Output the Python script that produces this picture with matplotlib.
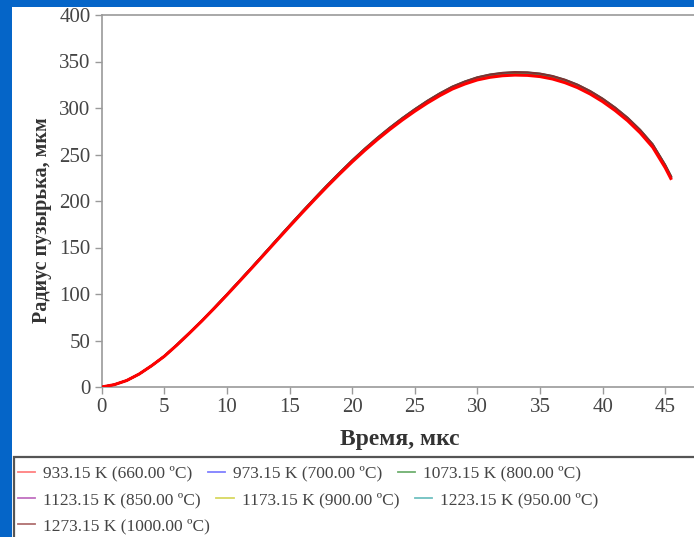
#Importing Libraries
import matplotlib
matplotlib.use('Agg')
import matplotlib.pyplot as plt
from matplotlib.lines import Line2D
from matplotlib.patches import Rectangle

plt.rcParams['font.family'] = ['Liberation Serif', 'DejaVu Serif']

#Data (time in mks, radius in mkm)
time = [0, 1, 2, 3, 4, 5, 6, 7, 8, 9, 10, 11, 12, 13, 14, 15, 16, 17, 18, 19, 20, 21, 22, 23,
        24, 25, 26, 27, 28, 29, 30, 31, 32, 33, 34, 35, 36, 37, 38, 39, 40, 41, 42, 43, 44, 45, 45.5]
r_933 = [0, 2.5, 7, 14, 23, 33, 45, 57.8, 71, 84.8, 99, 113.5, 128.1, 142.9, 157.8, 172.6, 187.2, 201.5,
         215.5, 229, 242, 254.3, 265.9, 276.8, 287, 296.5, 305.3, 313.3, 320.4, 325.8, 330.2, 333, 334.7,
         335.4, 335.1, 333.8, 331.2, 327.2, 321.9, 315.1, 306.9, 297.3, 286.3, 273.3, 257.8, 235.8, 222.8]
r_973 = [0, 2.5, 7, 14, 23, 33.1, 45.2, 58, 71.2, 85, 99.2, 113.8, 128.4, 143.3, 158.3, 173.1, 187.8, 202.1,
         216.2, 229.7, 242.8, 255.1, 266.8, 277.7, 288, 297.6, 306.4, 314.5, 321.6, 327.1, 331.5, 334.4, 336.1,
         336.9, 336.6, 335.3, 332.7, 328.7, 323.4, 316.6, 308.4, 298.8, 287.8, 274.8, 259.3, 237.2, 224.2]
r_1073 = [0, 2.5, 7, 14, 23, 33.1, 45.2, 58, 71.2, 85.1, 99.3, 113.9, 128.6, 143.5, 158.5, 173.3, 188, 202.4,
          216.5, 230.1, 243.1, 255.5, 267.2, 278.2, 288.5, 298, 306.9, 315, 322.2, 327.7, 332.2, 335, 336.8,
          337.6, 337.3, 336, 333.4, 329.4, 324.1, 317.3, 309.1, 299.5, 288.5, 275.5, 260, 237.8, 224.8]
r_1123 = [0, 2.5, 7, 14, 23, 33.1, 45.3, 58.1, 71.3, 85.1, 99.4, 114, 128.7, 143.6, 158.6, 173.4, 188.1, 202.5,
          216.6, 230.2, 243.3, 255.7, 267.4, 278.4, 288.7, 298.3, 307.2, 315.3, 322.4, 327.9, 332.4, 335.3, 337.1,
          337.9, 337.6, 336.3, 333.7, 329.7, 324.4, 317.6, 309.4, 299.8, 288.8, 275.8, 260.3, 238.1, 225.1]
r_1173 = [0, 2.5, 7, 14, 23, 33.1, 45.3, 58.1, 71.3, 85.1, 99.4, 114, 128.7, 143.6, 158.6, 173.5, 188.2, 202.6,
          216.8, 230.3, 243.5, 255.9, 267.6, 278.6, 288.9, 298.5, 307.4, 315.5, 322.7, 328.2, 332.7, 335.6, 337.4,
          338.2, 337.9, 336.6, 334, 330, 324.7, 317.9, 309.7, 300.1, 289.1, 276.1, 260.6, 238.4, 225.3]
r_1223 = [0, 2.5, 7, 14, 23, 33.2, 45.3, 58.1, 71.3, 85.2, 99.5, 114.1, 128.8, 143.7, 158.7, 173.6, 188.3, 202.7,
          216.9, 230.4, 243.6, 256, 267.7, 278.7, 289, 298.6, 307.5, 315.6, 322.8, 328.4, 332.9, 335.8, 337.6,
          338.4, 338.1, 336.8, 334.2, 330.2, 324.9, 318.1, 309.9, 300.3, 289.3, 276.3, 260.8, 238.6, 225.5]
r_1273 = [0, 2.5, 7, 14, 23, 33.2, 45.3, 58.1, 71.3, 85.2, 99.5, 114.1, 128.8, 143.7, 158.8, 173.7, 188.4, 202.8,
          216.9, 230.5, 243.7, 256.1, 267.8, 278.8, 289.1, 298.7, 307.7, 315.8, 323, 328.5, 333, 336, 337.8,
          338.6, 338.3, 337, 334.4, 330.4, 325.1, 318.3, 310.1, 300.5, 289.5, 276.5, 261, 238.8, 225.7]

labels = ['933.15 K (660.00 ºC)', '973.15 K (700.00 ºC)', '1073.15 K (800.00 ºC)',
          '1123.15 K (850.00 ºC)', '1173.15 K (900.00 ºC)', '1223.15 K (950.00 ºC)',
          '1273.15 K (1000.00 ºC)']
series = [r_933, r_973, r_1073, r_1123, r_1173, r_1223, r_1273]
line_colors = ['#ff0000', '#3030ff', '#2a9a2a', '#a030a0', '#d0d000', '#30a0a0', '#803030']
legend_colors = ['#ff8080', '#8080ff', '#70b070', '#c070c0', '#d8d860', '#70c0c0', '#b07070']
zorders = [10, 3, 6, 5, 4, 7, 8]

xticks = [0, 5, 10, 15, 20, 25, 30, 35, 40, 45]
yticks = [0, 50, 100, 150, 200, 250, 300, 350, 400]

W, H = 694, 537
fig = plt.figure(figsize=(W / 100, H / 100), dpi=100)
fig.patch.set_facecolor('#0565c8')
#white slide panel
fig.patches.append(Rectangle((12 / W, -0.02), 1.1, 1 - 7 / H + 0.02, transform=fig.transFigure,
                             facecolor='white', edgecolor='none', zorder=0))
#legend box
fig.patches.append(Rectangle((14 / W, -0.02), 1.1, 1 - 457 / H + 0.02, transform=fig.transFigure,
                             facecolor='white', edgecolor='#555555', linewidth=1.6, zorder=1))

ax = fig.add_axes([101.7 / W, 1 - 387 / H, 1 - 101.7 / W, (387 - 15) / H])
ax.set_zorder(5)
for vals, c, z in zip(series, line_colors, zorders):
    lw = 2.2 if z == 10 else 1.5
    ax.plot(time, vals, color=c, linewidth=lw, zorder=z, solid_capstyle='butt')

ax.set_xlim(0, 47.3)
ax.set_ylim(0, 400)
ax.set_xticks(xticks)
ax.set_yticks(yticks)
ax.spines['right'].set_visible(False)
for s in ['left', 'bottom', 'top']:
    ax.spines[s].set_color('#9a9a9a')
    ax.spines[s].set_linewidth(1.2)
ax.tick_params(direction='out', length=5, width=1, color='#9a9a9a', labelcolor='#444444', labelsize=15)
ax.tick_params(axis='y', pad=3)
ax.tick_params(axis='x', pad=3)

#axis titles
fig.text(400 / W, 1 - 440 / H, 'Время, мкс', ha='center', va='center', fontsize=17,
         fontweight='bold', color='#333333', zorder=6)
fig.text(42 / W, 1 - 220 / H, 'Радиус пузырька, мкм', ha='center', va='center', fontsize=14.5,
         fontweight='bold', color='#333333', rotation=90, zorder=6)

#legend: three rows that flow like the original
handles = [Line2D([], [], color=c, linewidth=1.3) for c in legend_colors]
rows = [[0, 1, 2], [3, 4, 5], [6]]
row_y = [473.7, 500.3, 526]
for idx, yy in zip(rows, row_y):
    leg = fig.legend([handles[i] for i in idx], [labels[i] for i in idx], loc='center left',
                     bbox_to_anchor=(18 / W, 1 - yy / H), ncol=len(idx), frameon=False,
                     borderpad=0, borderaxespad=0, handlelength=1.0, handletextpad=0.45,
                     columnspacing=0.9, prop={'family': 'Liberation Serif', 'size': 12.5},
                     labelcolor='#444444')
    leg.set_zorder(6)

fig.savefig('out.png', dpi=100, facecolor=fig.get_facecolor())
